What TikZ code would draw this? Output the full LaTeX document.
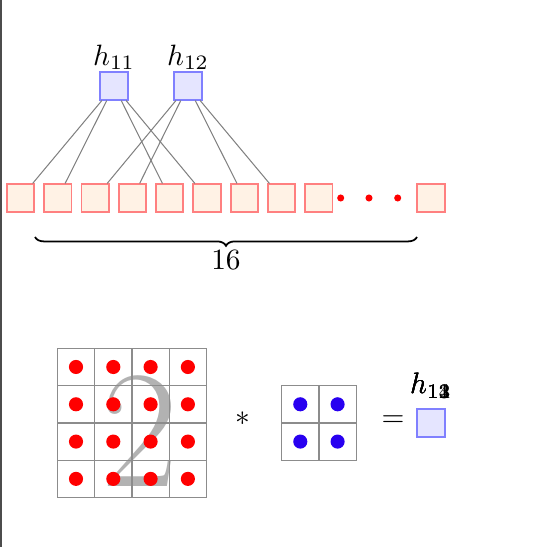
\documentclass[tikz,border=0pt]{standalone}
\usetikzlibrary{decorations.pathreplacing}
\definecolor{kblue}{RGB}{40,0,240}
\tikzset{
    pix/.style={draw=red!50,fill=orange!10,line width=0.6pt,minimum size=9.3pt,inner sep=0pt},
    hid/.style={draw=blue!50,fill=blue!10,line width=0.6pt,minimum size=9.3pt,inner sep=0pt},
    link/.style={gray,line width=0.35pt},
    cell/.style={draw=black!45,line width=0.4pt,minimum size=12.68pt,inner sep=0pt}
}
\begin{document}
\begin{tikzpicture}[x=0.34pt,y=-0.34pt]
                \useasboundingbox (0,0) rectangle (553,547);
                \fill[black!70] (0,0) rectangle (2,547);
                \foreach \i in {1,...,9}{
                    \node[pix] (p\i) at ({20.5+37.3*(\i-1)},198) {};
                }
                \node[pix] (p16) at (431,198) {};
                \foreach \x in {340.7,369,397.7}{
                    \fill[red] (\x,198) circle (1.2pt);
                }
                \node[hid,label={[label distance=-3pt]above:{$h_{11}$}}] (h11) at (114,86) {};
                \node[hid,label={[label distance=-3pt]above:{$h_{12}$}}] (h12) at (188,86) {};
                \foreach \j in {1,2,5,6}{
                    \draw[link] (h11) -- (p\j);
                }
                \foreach \j in {3,4,7,8}{
                    \draw[link] (h12) -- (p\j);
                }
                \draw [decorate,decoration={brace,amplitude=3pt,mirror},semithick] (35,237) -- (417,237) node[midway,yshift=-8pt] (n16) {\(16\)};
                \node[text=gray!60,inner sep=0pt,font=\fontsize{57}{60}\selectfont] (two) at (140,431) {2};
                \foreach \r in {0,...,3}{
                    \foreach \c in {0,...,3}{
                        \node[cell] (a\r\c) at ({76+37.3*\c},{367+37.3*\r}) {};
                        \fill[red] (a\r\c) circle (2.4pt);
                    }
                }
                \node (ast) at (243,419) {\(*\)};
                \foreach \r in {0,1}{
                    \foreach \c in {0,1}{
                        \node[cell] (k\r\c) at ({300.3+37.3*\c},{404.3+37.3*\r}) {};
                        \fill[kblue] (k\r\c) circle (2.4pt);
                    }
                }
                \node (eq) at (393,421) {\(=\)};
                \node[hid,label=above:{$h_{11}$},label=above:{$h_{12}$},label=above:{$h_{14}$},label=above:{$h_{13}$}] (out) at (431,423) {};
\end{tikzpicture}
\end{document}
